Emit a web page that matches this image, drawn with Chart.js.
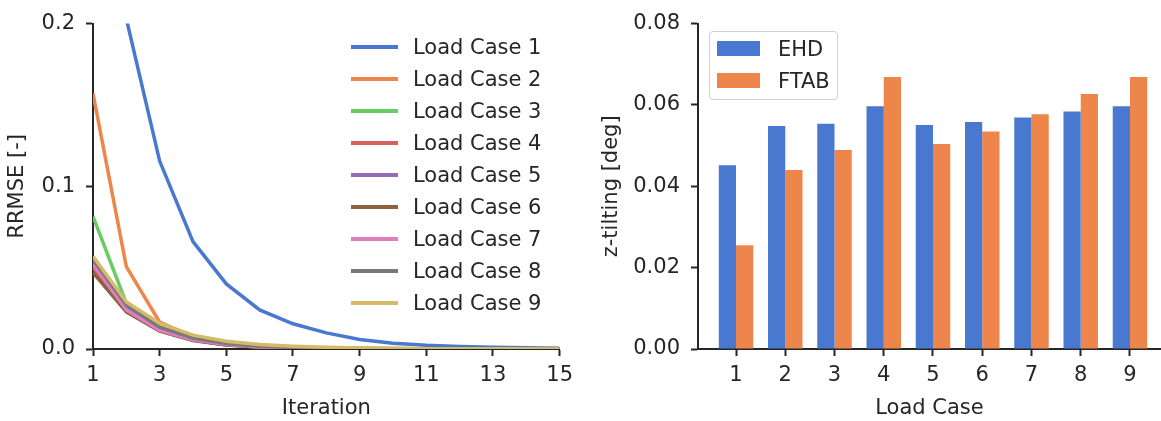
<!DOCTYPE html>
<html>
<head>
<meta charset="utf-8">
<script src="https://cdn.jsdelivr.net/npm/chart.js@4.4.1/dist/chart.umd.min.js"></script>
<style>
  body { margin: 0; background: #fff; overflow: hidden; }
  #wrap { position: relative; width: 1161px; height: 421px; font-family: "DejaVu Sans", sans-serif; color: #262626; }
  canvas { position: absolute; top: 0; }
  #convChart { left: 0; }
  #tiltChart { left: 580px; }
  .leg-row { position: absolute; height: 24px; font-size: 21px; line-height: 24px; white-space: nowrap; }
  .leg-line { position: absolute; left: 0; top: 10px; width: 47px; height: 3.5px; }
  .leg-text { position: absolute; left: 62px; top: 0; }
  #barLegend { position: absolute; left: 709px; top: 31px; width: 127px; height: 67px; border: 1px solid #d0d0d0; border-radius: 4px; background: rgba(255,255,255,0.8); }
  .leg-patch { position: absolute; left: 7px; width: 43px; height: 15px; }
  .leg-label { position: absolute; left: 68px; font-size: 21px; line-height: 24px; }
</style>
</head>
<body>
<div id="wrap">
  <canvas id="convChart" width="580" height="421"></canvas>
  <canvas id="tiltChart" width="581" height="421"></canvas>
  <div id="lineLegend"></div>
  <div id="barLegend"></div>
</div>
<script>
// Convergence of the RRMSE per load case
var iterations = [1, 2, 3, 4, 5, 6, 7, 8, 9, 10, 11, 12, 13, 14, 15];
var iterTicks = [1, 3, 5, 7, 9, 11, 13, 15];
var rrmseTicks = [0, 0.1, 0.2];

var lc1 = [0.350, 0.203, 0.1155, 0.066, 0.040, 0.024, 0.0155, 0.0099, 0.0058, 0.0036, 0.0023, 0.0015, 0.0010, 0.0007, 0.0005];
var lc2 = [0.157, 0.0506, 0.0165, 0.0075, 0.0035, 0.0018, 0.0010, 0.0006, 0.0004, 0.0003, 0.0002, 0.0001, 0.0001, 0.0001, 0.0001];
var lc3 = [0.0815, 0.0280, 0.0120, 0.0055, 0.0025, 0.0012, 0.0006, 0.0003, 0.0002, 0.0001, 0.0001, 0.0001, 0.0, 0.0, 0.0];
var lc4 = [0.050, 0.0235, 0.0115, 0.0055, 0.0026, 0.0013, 0.0007, 0.0004, 0.0002, 0.0001, 0.0001, 0.0, 0.0, 0.0, 0.0];
var lc5 = [0.053, 0.0250, 0.0120, 0.0060, 0.0028, 0.0014, 0.0007, 0.0004, 0.0002, 0.0001, 0.0001, 0.0, 0.0, 0.0, 0.0];
var lc6 = [0.047, 0.0228, 0.0110, 0.0052, 0.0024, 0.0012, 0.0006, 0.0003, 0.0002, 0.0001, 0.0001, 0.0, 0.0, 0.0, 0.0];
var lc7 = [0.052, 0.0240, 0.0115, 0.0056, 0.0027, 0.0013, 0.0007, 0.0004, 0.0002, 0.0001, 0.0001, 0.0, 0.0, 0.0, 0.0];
var lc8 = [0.055, 0.0270, 0.0135, 0.0068, 0.0034, 0.0017, 0.0009, 0.0005, 0.0003, 0.0002, 0.0001, 0.0001, 0.0, 0.0, 0.0];
var lc9 = [0.057, 0.0289, 0.0158, 0.0085, 0.0048, 0.0028, 0.0017, 0.0010, 0.0006, 0.0004, 0.0002, 0.0001, 0.0001, 0.0001, 0.0];

var caseNames = ['Load Case 1', 'Load Case 2', 'Load Case 3', 'Load Case 4', 'Load Case 5',
                 'Load Case 6', 'Load Case 7', 'Load Case 8', 'Load Case 9'];
var caseSeries = [lc1, lc2, lc3, lc4, lc5, lc6, lc7, lc8, lc9];
var caseColors = ['#4878d0', '#ee854a', '#6acc64', '#d65f5f', '#956cb4', '#8c613c', '#dc7ec0', '#797979', '#d5bb67'];

// z-tilting per load case, EHD vs FTAB
var loadCases = [1, 2, 3, 4, 5, 6, 7, 8, 9];
var ehd = [0.0452, 0.0548, 0.0554, 0.0597, 0.0551, 0.0558, 0.0569, 0.0584, 0.0597];
var ftab = [0.0255, 0.0440, 0.0489, 0.0669, 0.0504, 0.0535, 0.0577, 0.0627, 0.0669];
var tiltTicks = [0, 0.02, 0.04, 0.06, 0.08];

var ink = '#262626';
var font = { family: 'DejaVu Sans', size: 21 };
Chart.defaults.color = ink;
Chart.defaults.font.family = 'DejaVu Sans';

function axisStyle() {
    return {
        offset: false,
        border: { display: true, color: ink, width: 2 },
        grid: { offset: false, drawOnChartArea: false, drawTicks: true, tickLength: 7, tickWidth: 2, tickColor: ink }
    };
}

function toPoints(values, xs) {
    return values.map(function(v, i) { return { x: xs[i], y: v }; });
}

// --- left: line chart ---
var lineSets = caseSeries.map(function(s, i) {
    return {
        label: caseNames[i],
        data: toPoints(s, iterations),
        borderColor: caseColors[i],
        backgroundColor: caseColors[i],
        borderWidth: 3.5,
        pointRadius: 0,
        tension: 0,
        clip: 0,
        order: caseSeries.length - 1 - i
    };
});

var xConv = Object.assign(axisStyle(), {
    type: 'linear', min: 1, max: 15,
    afterBuildTicks: function(s) { s.ticks = iterTicks.map(function(v) { return { value: v }; }); },
    afterFit: function(s) { s.height = 72; },
    ticks: { font: font, padding: 7, maxRotation: 0, callback: function(v) { return String(v); } },
    title: { display: true, text: 'Iteration', font: font, padding: { top: 0, bottom: 0 } }
});
var yConv = Object.assign(axisStyle(), {
    type: 'linear', min: 0, max: 0.2,
    afterBuildTicks: function(s) { s.ticks = rrmseTicks.map(function(v) { return { value: v }; }); },
    afterFit: function(s) { s.width = 93; },
    ticks: { font: font, padding: 11, callback: function(v) { return v.toFixed(1); } },
    title: { display: true, text: 'RRMSE [-]', font: font, padding: { top: 5, bottom: 0 } }
});

new Chart(document.getElementById('convChart'), {
    type: 'line',
    data: { datasets: lineSets },
    options: {
        responsive: false,
        animation: false,
        layout: { padding: { top: 19, right: 18, bottom: 0, left: 0 } },
        plugins: { legend: { display: false }, tooltip: { enabled: false } },
        scales: { x: xConv, y: yConv }
    }
});

// --- right: grouped bar chart ---
var xTilt = Object.assign(axisStyle(), {
    type: 'linear', min: 0.228, max: 9.63,
    afterBuildTicks: function(s) { s.ticks = loadCases.map(function(v) { return { value: v }; }); },
    afterFit: function(s) { s.height = 72; },
    ticks: { font: font, padding: 7, maxRotation: 0, callback: function(v) { return String(v); } },
    title: { display: true, text: 'Load Case', font: font, padding: { top: 0, bottom: 0 } }
});
var yTilt = Object.assign(axisStyle(), {
    type: 'linear', min: 0, max: 0.08,
    afterBuildTicks: function(s) { s.ticks = tiltTicks.map(function(v) { return { value: v }; }); },
    afterFit: function(s) { s.width = 118; },
    ticks: { font: font, padding: 11, callback: function(v) { return v.toFixed(2); } },
    title: { display: true, text: 'z-tilting [deg]', font: font, padding: { top: 19, bottom: 0 } }
});

var barSets = [
    { label: 'EHD', data: toPoints(ehd, loadCases), backgroundColor: '#4878d0' },
    { label: 'FTAB', data: toPoints(ftab, loadCases), backgroundColor: '#ee854a' }
];
barSets.forEach(function(d) {
    d.borderWidth = 0;
    d.categoryPercentage = 0.7;
    d.barPercentage = 1.0;
});

new Chart(document.getElementById('tiltChart'), {
    type: 'bar',
    data: { datasets: barSets },
    options: {
        responsive: false,
        animation: false,
        layout: { padding: { top: 19, right: 0, bottom: 0, left: 0 } },
        plugins: { legend: { display: false }, tooltip: { enabled: false } },
        scales: { x: xTilt, y: yTilt }
    }
});

// --- legends ---
var lineLegend = document.getElementById('lineLegend');
caseNames.forEach(function(name, i) {
    var row = document.createElement('div');
    row.className = 'leg-row';
    row.style.left = '351px';
    row.style.top = (35 + 32 * i) + 'px';
    row.innerHTML = '<span class="leg-line" style="background:' + caseColors[i] + '"></span>' +
                    '<span class="leg-text">' + name + '</span>';
    lineLegend.appendChild(row);
});

var barLegend = document.getElementById('barLegend');
barSets.forEach(function(d, i) {
    var patch = document.createElement('div');
    patch.className = 'leg-patch';
    patch.style.top = (9 + 32 * i) + 'px';
    patch.style.background = d.backgroundColor;
    var lab = document.createElement('div');
    lab.className = 'leg-label';
    lab.style.top = (5 + 32 * i) + 'px';
    lab.textContent = d.label;
    barLegend.appendChild(patch);
    barLegend.appendChild(lab);
});
</script>
</body>
</html>
